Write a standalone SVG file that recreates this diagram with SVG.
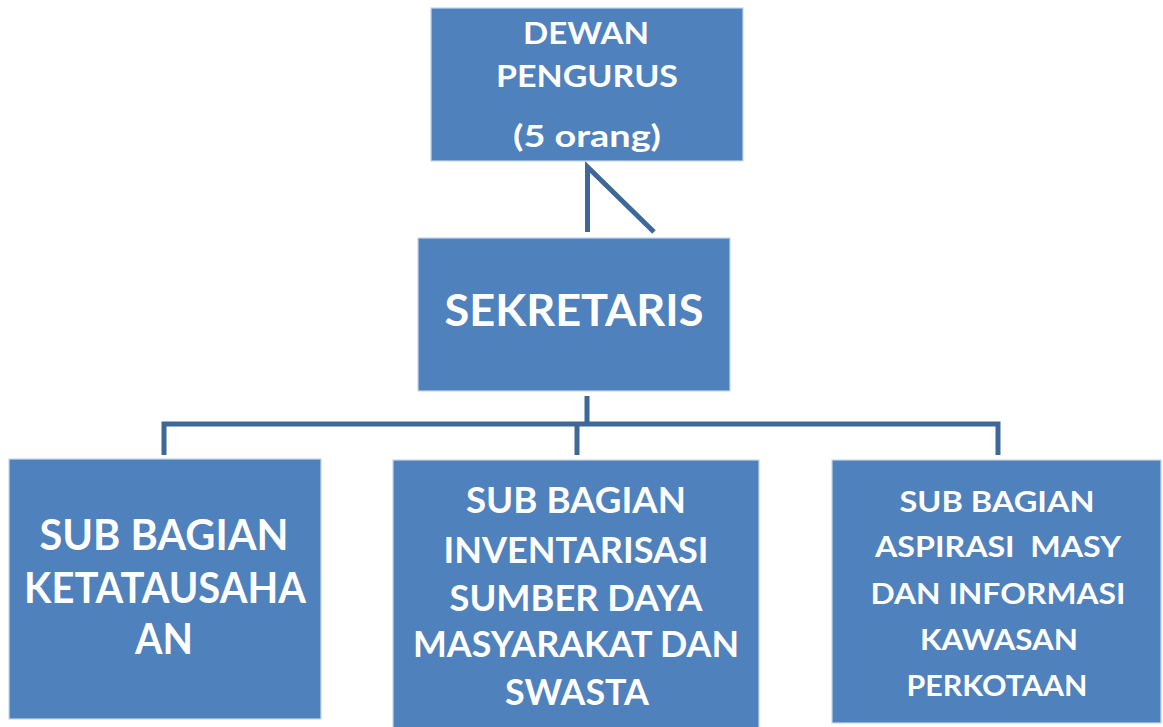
<svg xmlns="http://www.w3.org/2000/svg" width="1163" height="727" viewBox="0 0 1163 727">
  <style>
    .box { fill: #4F81BD; stroke: #C6D5EA; stroke-width: 1.2; }
    .t { font-family: Lato, "Open Sans", "Liberation Sans", sans-serif; font-weight: bold; fill: #FFFFFF; text-anchor: middle; }
    .conn { fill: none; stroke: #3D6899; stroke-width: 5; stroke-linejoin: miter; stroke-linecap: butt; }
  </style>
  <rect width="1163" height="727" fill="#FFFFFF"/>
  <g id="connectors">
    <path class="conn" d="M587.5,232 V167 L654,232"/>
    <path class="conn" d="M587,396 V424"/>
    <path class="conn" d="M164,455 V424 H998 V455"/>
    <path class="conn" d="M577,424 V455"/>
  </g>
  <g id="dewan-pengurus">
    <rect class="box" x="431" y="8" width="312" height="153"/>
    <text class="t" font-size="30" x="586" y="44" textLength="126" lengthAdjust="spacingAndGlyphs">DEWAN</text>
    <text class="t" font-size="30" x="587" y="87" textLength="182" lengthAdjust="spacingAndGlyphs">PENGURUS</text>
    <text class="t" font-size="30" x="587" y="147" textLength="148" lengthAdjust="spacingAndGlyphs">(5 orang)</text>
  </g>
  <g id="sekretaris">
    <rect class="box" x="418" y="238" width="312" height="153"/>
    <text class="t" font-size="43" x="574" y="326" textLength="259" lengthAdjust="spacingAndGlyphs">SEKRETARIS</text>
  </g>
  <g id="sub-ketatausahaan">
    <rect class="box" x="9" y="459" width="312" height="260"/>
    <text class="t" font-size="42" x="164" y="550" textLength="249" lengthAdjust="spacingAndGlyphs">SUB BAGIAN</text>
    <text class="t" font-size="42" x="165" y="603" textLength="282" lengthAdjust="spacingAndGlyphs">KETATAUSAHA</text>
    <text class="t" font-size="42" x="164" y="654" textLength="58" lengthAdjust="spacingAndGlyphs">AN</text>
  </g>
  <g id="sub-inventarisasi">
    <rect class="box" x="393" y="460" width="366" height="270"/>
    <text class="t" font-size="36" x="576" y="513" textLength="220" lengthAdjust="spacingAndGlyphs">SUB BAGIAN</text>
    <text class="t" font-size="36" x="576" y="563" textLength="265" lengthAdjust="spacingAndGlyphs">INVENTARISASI</text>
    <text class="t" font-size="36" x="576" y="611" textLength="253" lengthAdjust="spacingAndGlyphs">SUMBER DAYA</text>
    <text class="t" font-size="36" x="576" y="657" textLength="326" lengthAdjust="spacingAndGlyphs">MASYARAKAT DAN</text>
    <text class="t" font-size="36" x="577" y="705" textLength="144" lengthAdjust="spacingAndGlyphs">SWASTA</text>
  </g>
  <g id="sub-aspirasi">
    <rect class="box" x="832" y="460" width="329" height="263"/>
    <text class="t" font-size="28" x="997" y="512" textLength="195" lengthAdjust="spacingAndGlyphs">SUB BAGIAN</text>
    <text class="t" font-size="28" x="998" y="557" textLength="246" lengthAdjust="spacingAndGlyphs" xml:space="preserve">ASPIRASI  MASY</text>
    <text class="t" font-size="28" x="998" y="604" textLength="255" lengthAdjust="spacingAndGlyphs">DAN INFORMASI</text>
    <text class="t" font-size="28" x="999" y="650" textLength="158" lengthAdjust="spacingAndGlyphs">KAWASAN</text>
    <text class="t" font-size="28" x="997" y="696" textLength="181" lengthAdjust="spacingAndGlyphs">PERKOTAAN</text>
  </g>
</svg>
